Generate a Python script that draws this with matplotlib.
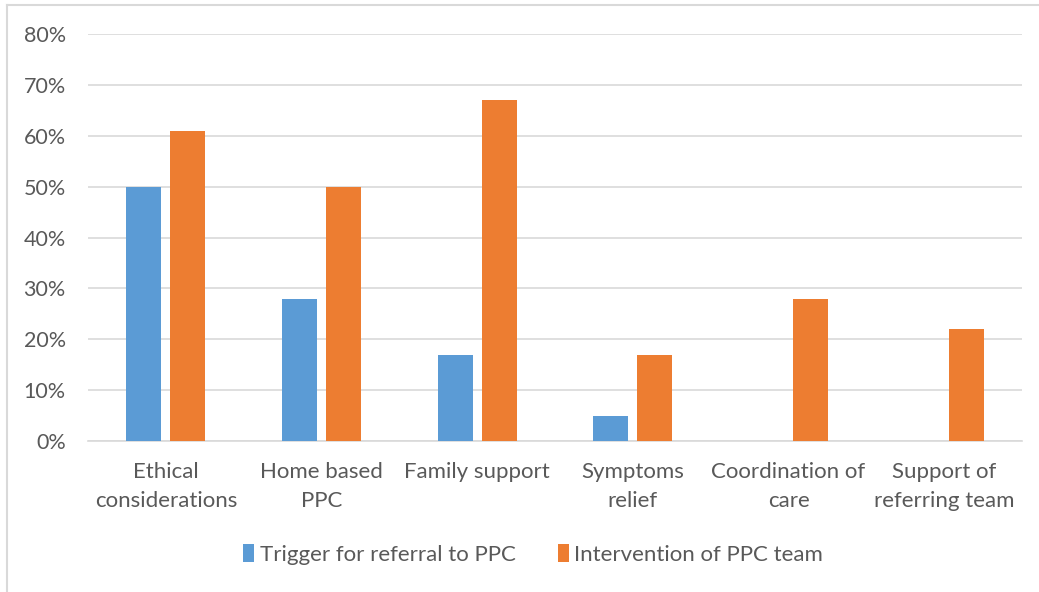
import numpy as np
import matplotlib.pyplot as plt
from matplotlib.lines import Line2D

categories = ['Ethical\nconsiderations', 'Home based\nPPC', 'Family support',
              'Symptoms\nrelief', 'Coordination of\ncare', 'Support of\nreferring team']
trigger = [50, 28, 17, 5, 0, 0]
intervention = [61, 50, 67, 17, 28, 22]
series_names = ['Trigger for referral to PPC', 'Intervention of PPC team']

plt.rcParams['font.family'] = ['Lato', 'DejaVu Sans']
text_color = '#595959'

fig = plt.figure(figsize=(10.39, 5.92), dpi=100)
ax = fig.add_axes([0.0847, 0.255, 0.899, 0.6876])

x = np.arange(len(categories))
w = 0.225
off = 0.141
ax.bar(x - off, trigger, w, color='#5B9BD5', label=series_names[0], zorder=3)
ax.bar(x + off, intervention, w, color='#ED7D31', label=series_names[1], zorder=3)

ax.set_xlim(-0.5, len(categories) - 0.5)
ax.set_ylim(0, 80)
ax.set_yticks(range(0, 81, 10))
ax.set_yticklabels(['%d%%' % v for v in range(0, 81, 10)])
ax.yaxis.grid(True, color='#D9D9D9', linewidth=1.2, zorder=0)
ax.set_xticks(x)
ax.set_xticklabels(categories, linespacing=1.6)
for s in ['top', 'right', 'left']:
    ax.spines[s].set_visible(False)
ax.spines['bottom'].set_color('#D9D9D9')
ax.spines['bottom'].set_linewidth(1.2)
ax.tick_params(axis='both', length=0, colors=text_color)
ax.tick_params(axis='x', pad=15, labelsize=16)
ax.tick_params(axis='y', pad=16, labelsize=15.5)

leg = fig.legend(loc='center', bbox_to_anchor=(0.513, 0.063), ncol=2, frameon=False,
                 fontsize=16, handlelength=0.5, handleheight=0.85, handletextpad=0.25,
                 columnspacing=1.9)
for t in leg.get_texts():
    t.set_color(text_color)

# chart frame: only left and top edges are visible in the crop
fig.add_artist(Line2D([7 / 1039, 7 / 1039], [0, 1 - 5 / 592], transform=fig.transFigure,
                      color='#D9D9D9', linewidth=1.5))
fig.add_artist(Line2D([7 / 1039, 1], [1 - 5 / 592, 1 - 5 / 592], transform=fig.transFigure,
                      color='#D9D9D9', linewidth=1.5))

fig.savefig('out.png', dpi=100)
